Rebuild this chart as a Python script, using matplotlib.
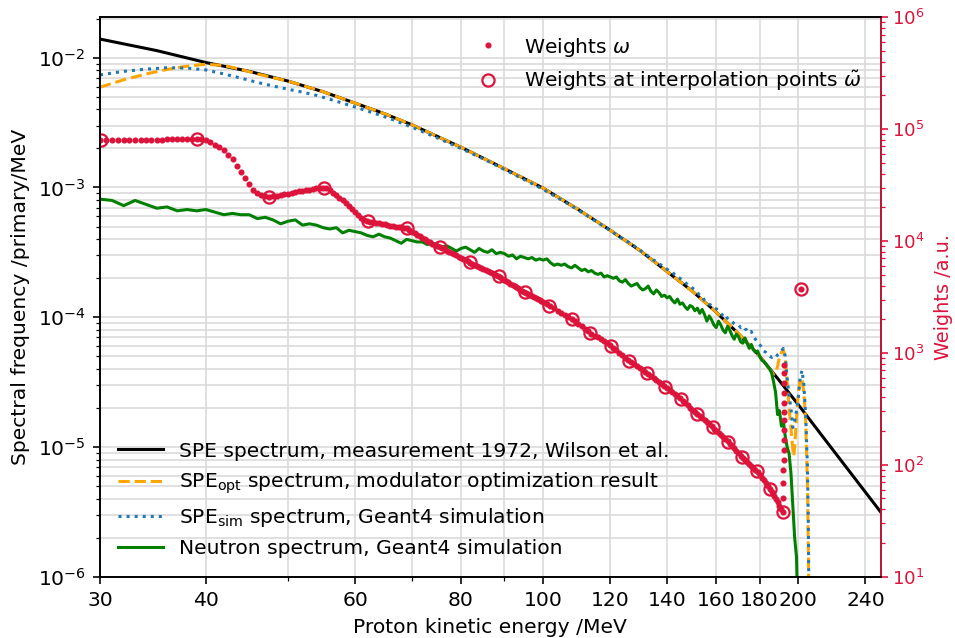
import numpy as np
import matplotlib
matplotlib.use("Agg")
import matplotlib.pyplot as plt
from matplotlib.ticker import FixedLocator, FixedFormatter, LogLocator, NullFormatter

# ---- dados (log10 dos valores) ----
# espectro SPE medido (Wilson 1972)
e_spe = [30, 35, 40, 45, 50, 55, 60, 65, 70, 80, 90, 100, 110, 120, 130, 140,
         150, 160, 170, 180, 190, 200, 215, 230, 250]
log_spe = [-1.856, -1.945, -2.037, -2.105, -2.18, -2.262, -2.35, -2.432, -2.517,
           -2.69, -2.855, -3.005, -3.17, -3.33, -3.485, -3.648, -3.80, -3.961,
           -4.128, -4.30, -4.49, -4.675, -4.943, -5.192, -5.50]

# SPE_opt (resultado da otimização)
e_opt = [30, 32, 34, 36, 38, 40, 42, 44, 46, 50, 55, 60, 65, 70, 80, 90, 100,
         110, 120, 130, 140, 150, 160, 170, 180, 184, 186, 187, 188, 189, 190,
         191, 192, 193, 194, 195, 196, 197, 197.5, 198, 199, 200, 201, 202, 203,
         204, 205, 205.5, 206]
log_opt = [-2.227, -2.17, -2.125, -2.09, -2.065, -2.05, -2.06, -2.09, -2.125,
           -2.18, -2.262, -2.35, -2.432, -2.517, -2.69, -2.855, -3.005, -3.17,
           -3.33, -3.485, -3.648, -3.80, -3.961, -4.128, -4.30, -4.38, -4.42,
           -4.44, -4.43, -4.38, -4.31, -4.27, -4.25, -4.32, -4.50, -4.70, -4.85,
           -5.02, -5.07, -5.0, -4.78, -4.58, -4.47, -4.48, -4.58, -4.80, -5.3,
           -5.8, -6.5]

# SPE_sim (Geant4)
e_sim = [30, 32, 34, 36, 38, 40, 42, 44, 46, 48, 50, 52, 54, 56, 58, 60, 63, 66,
         70, 75, 80, 85, 90, 95, 100, 105, 110, 115, 120, 125] + list(range(126, 205)) + [205, 205.5, 206]
log_sim = [-2.132, -2.105, -2.088, -2.077, -2.08, -2.094, -2.125, -2.157, -2.19,
           -2.218, -2.243, -2.265, -2.29, -2.32, -2.35, -2.38, -2.425, -2.47,
           -2.535, -2.618, -2.70, -2.78, -2.862, -2.94, -3.015, -3.095, -3.175,
           -3.255, -3.333, -3.41,
           -3.42, -3.44, -3.45, -3.47, -3.48, -3.50, -3.51, -3.53, -3.54, -3.56,
           -3.57, -3.59, -3.60, -3.615, -3.63, -3.645, -3.65, -3.675, -3.69, -3.70,
           -3.72, -3.73, -3.75, -3.76, -3.775, -3.79, -3.81, -3.83, -3.84, -3.87,
           -3.88, -3.90, -3.91, -3.93, -3.935, -3.95, -3.97, -3.99, -3.98, -4.01,
           -4.03, -4.035, -4.05, -4.06, -4.06, -4.08, -4.07, -4.09, -4.10, -4.12,
           -4.11, -4.15, -4.17, -4.19, -4.21, -4.23, -4.26, -4.27, -4.29, -4.30,
           -4.31, -4.30, -4.31, -4.29, -4.28, -4.26, -4.24, -4.30, -4.47, -4.60,
           -4.70, -4.85, -4.80, -4.72, -4.62, -4.46, -4.41, -4.52, -4.75,
           -5.15, -5.6, -6.5]

# espectro de nêutrons (Geant4), passo de 1 MeV de 30 a 200
e_neu = list(range(30, 201))
log_neu = [-3.09, -3.10, -3.14, -3.10, -3.13, -3.16, -3.15, -3.18, -3.17, -3.18,
           -3.17, -3.19, -3.21, -3.20, -3.21, -3.21, -3.24, -3.23, -3.25, -3.28,
           -3.26, -3.25, -3.29, -3.28, -3.29, -3.31, -3.32, -3.31, -3.35, -3.33,
           -3.34, -3.35, -3.37, -3.38, -3.36, -3.38, -3.39, -3.41, -3.43, -3.40,
           -3.41, -3.42, -3.42, -3.44, -3.43, -3.44, -3.46, -3.45, -3.47, -3.49,
           -3.47, -3.46, -3.48, -3.50, -3.47, -3.49, -3.50, -3.48, -3.51, -3.50,
           -3.51, -3.53, -3.52, -3.55, -3.53, -3.54, -3.55, -3.54, -3.56, -3.55,
           -3.56, -3.55, -3.58, -3.60, -3.59, -3.60, -3.59, -3.61, -3.62, -3.60,
           -3.62, -3.64, -3.63, -3.65, -3.64, -3.66, -3.67, -3.66, -3.69, -3.68,
           -3.69, -3.70, -3.69, -3.72, -3.73, -3.71, -3.74, -3.76, -3.75, -3.74,
           -3.77, -3.79, -3.78, -3.76, -3.80, -3.82, -3.79, -3.81, -3.84, -3.83,
           -3.85, -3.84, -3.87, -3.89, -3.86, -3.90, -3.89, -3.92, -3.94, -3.91,
           -3.92, -3.95, -3.93, -3.97, -3.94, -3.98, -4.03, -3.99, -4.02, -4.06,
           -4.08, -4.03, -4.06, -4.10, -4.12, -4.07, -4.10, -4.14, -4.17, -4.13,
           -4.15, -4.19, -4.20, -4.16, -4.20, -4.24, -4.21, -4.25, -4.27, -4.26,
           -4.30, -4.33, -4.34, -4.36, -4.38, -4.40, -4.43, -4.50, -4.58, -4.75,
           -4.72, -4.84, -4.80, -4.92, -5.00, -5.05, -5.20, -5.45, -5.70, -5.85,
           -6.5]

# pesos omega (eixo direito): passo 0.5 MeV até 100, depois 1 MeV
e_w = list(np.arange(30, 100.5, 0.5)) + list(range(101, 192)) + \
      [191.8, 191.9, 192.0, 192.05, 192.1, 192.15, 192.2, 192.25, 192.3, 192.35,
       192.4, 192.45, 192.5, 192.55, 192.6, 201.5]
log_w = [4.90, 4.90, 4.90, 4.90, 4.90, 4.90, 4.90, 4.90, 4.90, 4.905,
         4.905, 4.905, 4.91, 4.91, 4.91, 4.91, 4.91, 4.91, 4.914, 4.91,
         4.90, 4.885, 4.86, 4.84, 4.81, 4.77, 4.73, 4.67, 4.62, 4.56,
         4.51, 4.46, 4.43, 4.41, 4.40, 4.395, 4.40, 4.405, 4.41, 4.42,
         4.425, 4.43, 4.44, 4.445, 4.45, 4.455, 4.46, 4.465, 4.47, 4.472,
         4.475, 4.47, 4.455, 4.43, 4.41, 4.385, 4.365, 4.34, 4.31, 4.285,
         4.26, 4.235, 4.21, 4.19, 4.178, 4.172, 4.168, 4.163, 4.158, 4.153,
         4.148, 4.143, 4.138, 4.133, 4.13, 4.126, 4.122, 4.118, 4.114, 4.10,
         4.085, 4.07, 4.058, 4.045, 4.03, 4.015, 4.00, 3.99, 3.978, 3.966,
         3.955, 3.946, 3.935, 3.925, 3.914, 3.903, 3.893, 3.882, 3.871, 3.86,
         3.85, 3.839, 3.828, 3.818, 3.807, 3.798, 3.788, 3.779, 3.77, 3.76,
         3.751, 3.742, 3.732, 3.723, 3.714, 3.704, 3.695, 3.686, 3.675, 3.664,
         3.653, 3.642, 3.631, 3.62, 3.609, 3.598, 3.587, 3.576, 3.565, 3.554,
         3.543, 3.534, 3.525, 3.516, 3.507, 3.498, 3.489, 3.48, 3.471, 3.462,
         3.453,
         3.435, 3.416, 3.398, 3.379, 3.36, 3.341, 3.323, 3.304, 3.282, 3.259,
         3.237, 3.215, 3.193, 3.172, 3.155, 3.138, 3.121, 3.104, 3.087, 3.069,
         3.048, 3.025, 3.002, 2.98, 2.957, 2.934, 2.917, 2.90, 2.883, 2.866,
         2.849, 2.831, 2.813, 2.795, 2.776, 2.757, 2.738, 2.72, 2.701, 2.683,
         2.665, 2.647, 2.629, 2.611, 2.593, 2.574, 2.553, 2.533, 2.512, 2.492,
         2.471, 2.451, 2.433, 2.415, 2.397, 2.379, 2.361, 2.343, 2.324, 2.305,
         2.286, 2.266, 2.247, 2.228, 2.209, 2.188, 2.167, 2.146, 2.125, 2.104,
         2.083, 2.064, 2.046, 2.029, 2.011, 1.993, 1.975, 1.958, 1.937, 1.911,
         1.886, 1.86, 1.835, 1.809, 1.784, 1.754, 1.724, 1.694, 1.664, 1.634,
         1.604,
         1.58, 1.70, 1.834, 1.953, 2.043, 2.132, 2.222, 2.311, 2.401, 2.475,
         2.55, 2.64, 2.73, 2.82, 2.893, 3.571]

# pesos nos pontos de interpolação
e_nodes = [30.1, 39.0, 47.5, 55.1, 62.1, 69.1, 75.6, 81.9, 88.6, 95.1, 101.7,
           108.0, 113.7, 120.2, 126.1, 132.7, 139.1, 145.4, 151.8, 158.4, 165.1,
           171.5, 178.6, 185.1, 191.8, 201.5]
log_nodes = [4.90, 4.914, 4.395, 4.475, 4.176, 4.114, 3.944, 3.809, 3.684, 3.541,
             3.422, 3.304, 3.177, 3.066, 2.932, 2.819, 2.699, 2.586, 2.455, 2.336,
             2.207, 2.073, 1.947, 1.781, 1.58, 3.571]

xticks = [30, 40, 60, 80, 100, 120, 140, 160, 180, 200, 240]

vermelho = "crimson"
DPI = 146

fig = plt.figure(figsize=(955 / DPI, 638 / DPI), dpi=DPI)
ax = fig.add_axes([0.1047, 0.0961, 0.8173, 0.8768])

ax.plot(e_spe, 10 ** np.array(log_spe), color="black", lw=1.5,
        label="SPE spectrum, measurement 1972, Wilson et al.")
ax.plot(e_opt, 10 ** np.array(log_opt), color="orange", lw=1.5, ls="--",
        label=r"SPE$_\mathrm{opt}$ spectrum, modulator optimization result")
ax.plot(e_sim, 10 ** np.array(log_sim), color="tab:blue", lw=1.5, ls=":",
        label=r"SPE$_\mathrm{sim}$ spectrum, Geant4 simulation")
ax.plot(e_neu, 10 ** np.array(log_neu), color="green", lw=1.5,
        label="Neutron spectrum, Geant4 simulation")

ax.set_xscale("log")
ax.set_yscale("log")
ax.set_xlim(30, 250)
ax.set_ylim(1e-6, 2.05e-2)
ax.xaxis.set_major_locator(FixedLocator(xticks))
ax.xaxis.set_major_formatter(FixedFormatter([str(t) for t in xticks]))
ax.xaxis.set_minor_locator(LogLocator(base=10, subs=np.arange(2, 10)))
ax.xaxis.set_minor_formatter(NullFormatter())
ax.grid(True, which="both", color="0.85", lw=0.8)
ax.set_xlabel("Proton kinetic energy /MeV")
ax.set_ylabel("Spectral frequency /primary/MeV")
ax.legend(loc="lower left", frameon=False, handlelength=2.2)

ax2 = ax.twinx()
ax2.plot(e_w, 10 ** np.array(log_w), ls="none", marker=".", ms=4,
         color=vermelho, label=r"Weights $\omega$")
ax2.plot(e_nodes, 10 ** np.array(log_nodes), ls="none", marker="o", ms=6,
         mfc="none", mec=vermelho, mew=1.1,
         label=r"Weights at interpolation points $\tilde{\omega}$")
ax2.set_yscale("log")
ax2.set_ylim(10, 1e6)
ax2.set_ylabel("Weights /a.u.", color=vermelho, fontsize=9.5)
ax2.yaxis.set_label_coords(1.069, 0.5)
ax2.tick_params(axis="y", which="both", colors=vermelho)
ax2.tick_params(axis="y", which="major", pad=2, labelsize=9)
ax2.spines["right"].set_color(vermelho)
ax2.legend(loc="upper right", frameon=False)

fig.savefig("out.png", dpi=DPI)
